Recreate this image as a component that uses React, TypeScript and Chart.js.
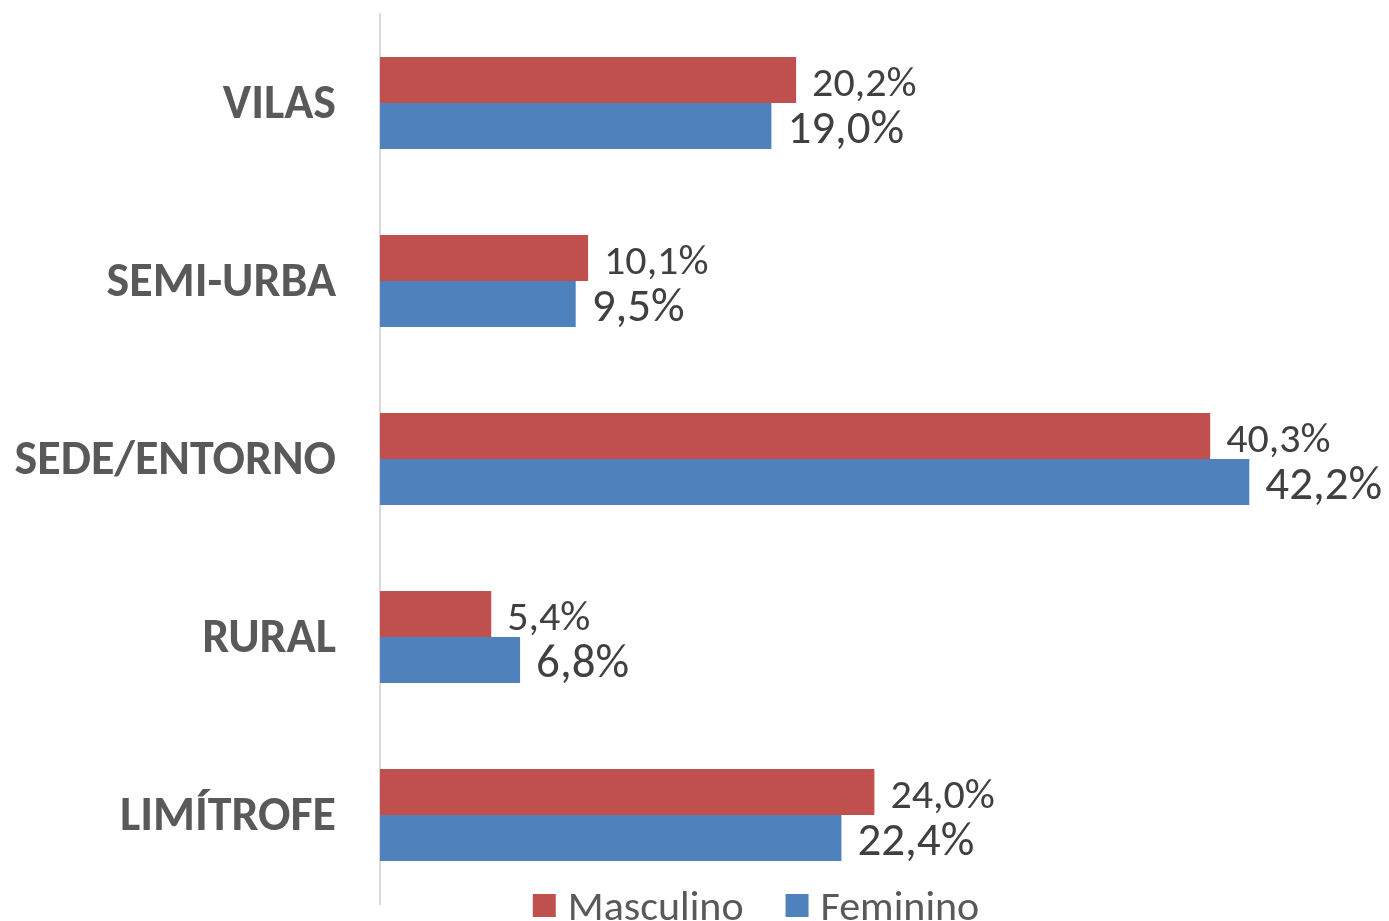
import React, { useEffect, useRef } from "react";
import { Chart, registerables } from "chart.js";

Chart.register(...registerables);

const categories = ["VILAS", "SEMI-URBA", "SEDE/ENTORNO", "RURAL", "LIMÍTROFE"];
const masculino = [20.2, 10.1, 40.3, 5.4, 24.0];
const feminino = [19.0, 9.5, 42.2, 6.8, 22.4];
const seriesNames = ["Masculino", "Feminino"];
const seriesColors = ["#C0504D", "#4F81BD"];

const FONT = "Carlito, Calibri, Lato, sans-serif";

const fmt = (v: number) => v.toFixed(1).replace(".", ",") + "%";

const valueLabels = {
  id: "valueLabels",
  afterDatasetsDraw(chart: any) {
    const ctx = chart.ctx;
    ctx.save();
    chart.data.datasets.forEach((ds: any, di: number) => {
      const meta = chart.getDatasetMeta(di);
      const size = di === 0 ? 42 : 47;
      const dy = di === 0 ? 16 : 17;
      ctx.font = `${size}px ${FONT}`;
      ctx.fillStyle = "#404040";
      ctx.textAlign = "left";
      ctx.textBaseline = "alphabetic";
      meta.data.forEach((bar: any, i: number) => {
        ctx.fillText(fmt(ds.data[i]), bar.x + 16, bar.y + dy);
      });
    });
    ctx.restore();
  },
};

const customLegend = {
  id: "customLegend",
  afterDraw(chart: any) {
    const ctx = chart.ctx;
    ctx.save();
    ctx.font = `42px ${FONT}`;
    ctx.textBaseline = "alphabetic";
    ctx.textAlign = "left";
    const box = 23;
    const gapText = 12;
    const gapItem = 42;
    const widths = seriesNames.map((n) => ctx.measureText(n).width);
    const total = widths.reduce((a, w) => a + box + gapText + w, 0) + gapItem * (seriesNames.length - 1);
    let x = 756 - total / 2;
    const cy = chart.chartArea.bottom;
    seriesNames.forEach((n, i) => {
      ctx.fillStyle = seriesColors[i];
      ctx.fillRect(x, cy - 10, box, box);
      ctx.fillStyle = "#595959";
      ctx.fillText(n, x + box + gapText, cy + 16);
      x += box + gapText + widths[i] + gapItem;
    });
    ctx.restore();
  },
};

export default function App() {
  const ref = useRef<HTMLCanvasElement>(null);
  useEffect(() => {
    document.body.style.margin = "0";
    const chart = new Chart(ref.current!, {
      type: "bar",
      data: {
        labels: categories,
        datasets: [
          { label: seriesNames[0], data: masculino, backgroundColor: seriesColors[0], borderWidth: 0 },
          { label: seriesNames[1], data: feminino, backgroundColor: seriesColors[1], borderWidth: 0 },
        ],
      },
      options: {
        indexAxis: "y",
        animation: false,
        responsive: false,
        maintainAspectRatio: false,
        layout: { padding: { top: 14, bottom: 17, left: 0, right: 82 } },
        datasets: {
          bar: { barPercentage: 1, categoryPercentage: 0.517 },
        } as any,
        plugins: {
          legend: { display: false },
          tooltip: { enabled: false },
        },
        scales: {
          x: {
            display: false,
            min: 0,
            max: 45,
          },
          y: {
            afterFit: (scale: any) => {
              scale.width = 380;
              scale.paddingTop = 0;
              scale.paddingBottom = 0;
            },
            grid: { display: false, drawTicks: false },
            border: { display: true, color: "#D9D9D9", width: 2 },
            ticks: {
              padding: 44,
              labelOffset: 3,
              color: "#595959",
              font: { family: FONT, size: 48, weight: "bold" },
            },
          },
        },
      },
      plugins: [valueLabels, customLegend],
    });
    return () => chart.destroy();
  }, []);
  return (
    <div style={{ width: 1389, height: 921, overflow: "hidden", background: "#fff" }}>
      <canvas ref={ref} width={1389} height={921} style={{ display: "block" }} />
    </div>
  );
}
